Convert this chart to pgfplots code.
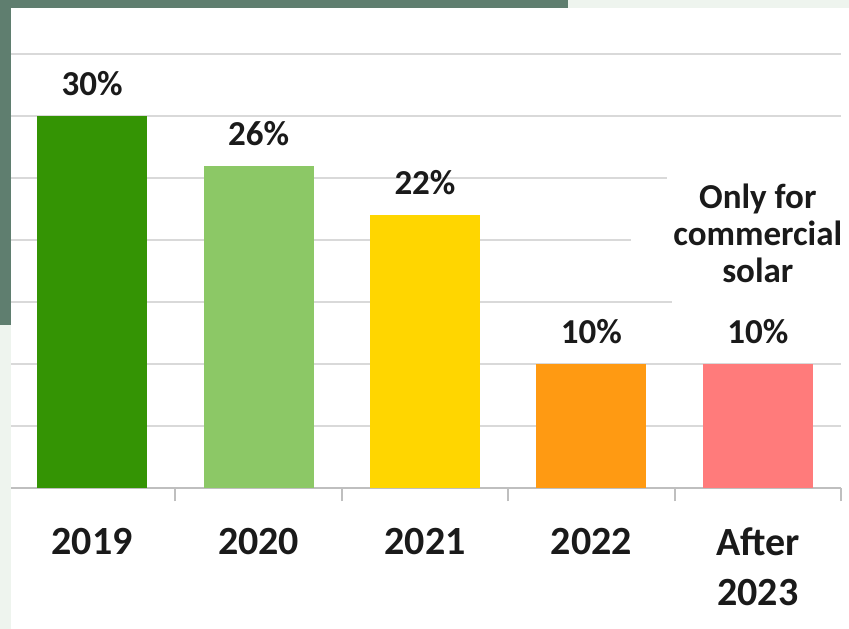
\documentclass[border=0pt]{standalone}
\usepackage{pgfplots}
\pgfplotsset{compat=1.18}
\usepackage{fontspec}
\setmainfont{Carlito}
\definecolor{band}{HTML}{5F7E6F}
\definecolor{lightbg}{HTML}{EEF4EE}
\definecolor{gridgray}{HTML}{D9D9D9}
\definecolor{axisgray}{HTML}{BFBFBF}
\definecolor{labelcol}{HTML}{1A1A1A}
\definecolor{cA}{HTML}{349404}
\definecolor{cB}{HTML}{8CC866}
\definecolor{cC}{HTML}{FFD600}
\definecolor{cD}{HTML}{FF9A12}
\definecolor{cE}{HTML}{FF7B7B}
\begin{document}
\begin{tikzpicture}[x=1pt,y=1pt]
\useasboundingbox (0,0) rectangle (849,629);
\fill[white] (0,0) rectangle (849,629);
\begin{axis}[
  at={(9pt,141pt)}, anchor=south west,
  scale only axis, width=832pt, height=434pt,
  xmin=-0.5, xmax=4.5, ymin=0, ymax=35,
  clip=false,
  axis x line*=bottom, axis y line*=left,
  y axis line style={draw=none},
  x axis line style={draw=axisgray, line width=2.5pt},
  ytick={5,10,...,35}, yticklabels={}, ytick style={draw=none},
  ymajorgrids, grid style={draw=gridgray, line width=2.5pt},
  xtick={0.5,1.5,2.5,3.5,4.5}, xticklabels={},
  xtick style={draw=axisgray, line width=2.2pt},
  xtick align=outside, major tick length=13pt,
  extra x ticks={0,1,2,3,4},
  extra x tick labels={2019,2020,2021,2022,{After\\2023}},
  extra x tick style={major tick length=0pt, grid=none},
  xticklabel style={font=\fontsize{40}{50}\selectfont\bfseries, text=labelcol,
    align=center, inner sep=0pt, anchor=north, yshift=-40pt},
  ybar, bar width=110pt,
  /pgf/number format/assume math mode=true,
  nodes near coords={\pgfmathprintnumber{\pgfplotspointmeta}\%},
  every node near coord/.append style={font=\fontsize{35}{37}\selectfont\bfseries,
    text=labelcol, inner sep=0pt, yshift=20pt},
]
\addplot[fill=cA, draw=none, bar shift=0pt] coordinates {(0,30)};
\addplot[fill=cB, draw=none, bar shift=0pt] coordinates {(1,26)};
\addplot[fill=cC, draw=none, bar shift=0pt] coordinates {(2,22)};
\addplot[fill=cD, draw=none, bar shift=0pt] coordinates {(3,10)};
\addplot[fill=cE, draw=none, bar shift=0pt] coordinates {(4,10)};
\node[font=\fontsize{35}{37}\selectfont\bfseries, text=labelcol, fill=white,
  inner ysep=0pt, inner xsep=50pt, text height=22pt, text depth=21pt,
  anchor=base, yshift=81pt] at (axis cs:4,10) {solar};
\node[font=\fontsize{35}{37}\selectfont\bfseries, text=labelcol, fill=white,
  inner ysep=0pt, inner xsep=42pt, text height=20pt, text depth=6pt,
  anchor=base, yshift=118pt] at (axis cs:4,10) {commercial};
\node[font=\fontsize{35}{37}\selectfont\bfseries, text=labelcol, fill=white,
  inner ysep=0pt, inner xsep=32pt, text height=35pt, text depth=6pt,
  anchor=base, yshift=155pt] at (axis cs:4,10) {Only for};
\end{axis}
\fill[lightbg] (0,0) rectangle (11,629);
\fill[lightbg] (0,621) rectangle (849,629);
\fill[band] (0,304) rectangle (11,629);
\fill[band] (0,621) rectangle (568,629);
\end{tikzpicture}
\end{document}
